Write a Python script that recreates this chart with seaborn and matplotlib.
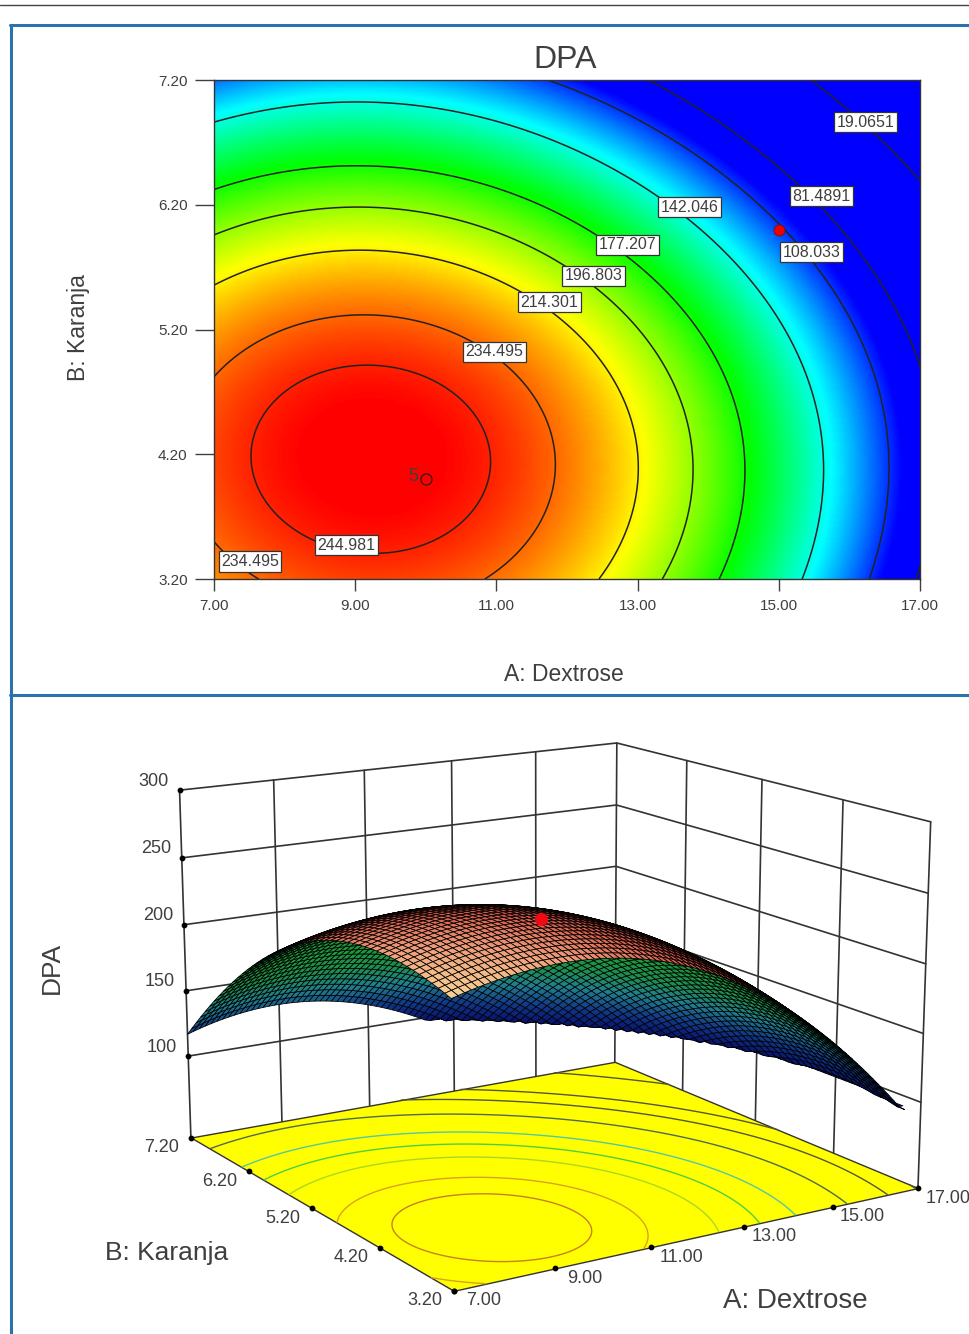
import numpy as np
import matplotlib
matplotlib.use("Agg")
import matplotlib.pyplot as plt
from matplotlib.lines import Line2D
from mpl_toolkits.mplot3d import proj3d
from mpl_toolkits.mplot3d.art3d import Poly3DCollection
import seaborn as sns

# values
dextrose = [7, 8, 9, 10, 11, 12, 13, 14, 15, 16, 17]
karanja = [3.2, 3.7, 4.2, 4.7, 5.2, 5.7, 6.2, 6.7, 7.2]
dpa_32 = [228, 237, 241, 240, 233, 222, 204, 181, 153, 119, 80]
dpa_37 = [237, 246.5, 250.5, 249, 241, 228, 211, 188, 160, 127, 87]
dpa_42 = [239.5, 249, 252, 251, 244, 231, 213.7, 192, 163, 130, 90]
dpa_47 = [236, 245, 249, 248, 241, 227, 210, 188, 160, 127, 85]
dpa_52 = [226, 234, 237, 235, 228, 214.7, 198.5, 173, 144, 110, 72]
dpa_57 = [208, 217, 220, 216, 210, 200.5, 179, 150, 124, 90, 52]
dpa_62 = [185, 194, 196, 192, 184, 170, 153, 135, 98, 73, 31]
dpa_67 = [155, 164, 165, 163, 150, 138, 120, 95, 68, 33, 3]
dpa_72 = [115, 125, 128, 126, 118, 108, 87, 62, 32, -5, -30]
levels = [19.0651, 81.4891, 108.033, 142.046, 177.207, 196.803, 214.301, 234.495, 244.981]
floor_colors = ["#555533", "#555533", "#555533", "#4d6b4a", "#55c8a0", "#4fcf3f", "#a8d820", "#d9a21c", "#c8801c"]
label_text = ["19.0651", "81.4891", "108.033", "142.046", "177.207", "196.803", "214.301", "234.495", "244.981", "234.495"]
label_a = [16.23, 15.6, 15.47, 13.74, 12.86, 12.38, 11.75, 10.97, 8.88, 7.51]
label_b = [6.86, 6.27, 5.82, 6.18, 5.88, 5.63, 5.42, 5.02, 3.47, 3.34]
a_ticks = [7, 9, 11, 13, 15, 17]
b_ticks = [3.2, 4.2, 5.2, 6.2, 7.2]
z_ticks = [100, 150, 200, 250, 300]

W, H = 969, 1334
sns.set_style("white")
plt.rcParams["font.family"] = ["Liberation Sans", "DejaVu Sans"]
fig = plt.figure(figsize=(W / 100, H / 100), dpi=100)
TXT = "#3f3f3f"

# least squares polynomial through the table, only to draw it smoothly
table = np.array([dpa_32, dpa_37, dpa_42, dpa_47, dpa_52, dpa_57, dpa_62, dpa_67, dpa_72], float)
A0, B0 = np.meshgrid(dextrose, karanja)

def basis(a, b):
    p, q = (a - 12) / 5, (b - 5.2) / 2
    return np.stack([p ** i * q ** j for i in range(5) for j in range(5 - i)], axis=-1)

coef = np.linalg.lstsq(basis(A0.ravel(), B0.ravel()), table.ravel(), rcond=None)[0]

def fine(nx, ny):
    a, b = np.meshgrid(np.linspace(7, 17, nx), np.linspace(3.2, 7.2, ny))
    return a, b, basis(a, b) @ coef

rainbow = sns.blend_palette(["#0000ff", "#00ffff", "#00ff00", "#ffff00", "#ff0000"], n_colors=256, as_cmap=True)

# top panel
ax = fig.add_axes([214 / W, 1 - 579 / H, 706 / W, 499 / H])
ax.set_zorder(2)
Af, Bf, Zf = fine(300, 300)
ax.imshow(Zf, extent=(7, 17, 3.2, 7.2), origin="lower", aspect="auto", cmap=rainbow, vmin=100, vmax=250)
ax.contour(Af, Bf, Zf, levels=levels, colors="#222222", linewidths=1.1)
for t, a, b in zip(label_text, label_a, label_b):
    ax.text(a, b, t, ha="center", va="center", fontsize=11.5, color=TXT,
            bbox=dict(boxstyle="square,pad=0.16", fc="white", ec="#333333", lw=0.9))
ax.plot([15], [6], "o", ms=8, color="#ee0000", mec="#661111", mew=0.5)
ax.plot([10], [4], "o", ms=8, mfc="none", mec="#222222", mew=0.9)
ax.text(9.9, 4.02, "5", ha="right", va="center", fontsize=13, color=TXT)
ax.set_xticks(a_ticks, [f"{v:.2f}" for v in a_ticks])
ax.set_yticks(b_ticks, [f"{v:.2f}" for v in b_ticks])
ax.tick_params(axis="x", direction="out", length=8.8, width=1, labelsize=11, colors=TXT, pad=5.5, bottom=True)
ax.tick_params(axis="y", direction="out", length=13.5, width=1, labelsize=11, colors=TXT, pad=5.5, left=True)
for s in ax.spines.values():
    s.set_color("#333333")
    s.set_linewidth(1.0)
fig.text(565 / W, 1 - 60 / H, "DPA", ha="center", va="center", fontsize=23, color=TXT)
fig.text(564 / W, 1 - 674 / H, "A: Dextrose", ha="center", va="center", fontsize=16.5, color=TXT)
fig.text(79 / W, 1 - 328 / H, "B: Karanja", ha="center", va="center", rotation=90, fontsize=16.5, color=TXT)

# bottom panel, camera was fitted to the box corners
ax3 = fig.add_axes([46.7 / W, -150.3 / H, 1, W / H], projection="3d")
ax3.set_zorder(1)
ax3.patch.set_visible(False)
z0 = 36.774
ax3.set_xlim(7, 17)
ax3.set_ylim(3.2, 7.2)
ax3.set_zlim(z0, 300)
ax3.view_init(14.468, -122.535)
ax3.set_proj_type("persp", focal_length=0.54)
ax3.set_box_aspect((0.994, 1, 0.686), zoom=0.843)
ax3.set_axis_off()
ax3.computed_zorder = False
ax3.apply_aspect()

LINE = "#333333"
# walls
for a in a_ticks:
    ax3.plot([a, a], [7.2, 7.2], [z0, 300], color=LINE, lw=1.2, zorder=1)
for b in b_ticks[:-1]:
    ax3.plot([17, 17], [b, b], [z0, 300], color=LINE, lw=1.2, zorder=1)
for z in z_ticks:
    ax3.plot([7, 17, 17], [7.2, 7.2, 3.2], [z, z, z], color=LINE, lw=1.2, zorder=1)

# floor with the contours laid on it
Ac, Bc, Zc = fine(150, 150)
floor = Poly3DCollection([[(7, 3.2, z0), (17, 3.2, z0), (17, 7.2, z0), (7, 7.2, z0)]], facecolors="#ffff00", edgecolors=LINE, linewidths=1.0, zorder=2)
ax3.add_collection3d(floor)
ax3.contour(Ac, Bc, Zc, levels=levels, zdir="z", offset=z0, colors=floor_colors, linewidths=1.0, zorder=3)

def to_pixels(x, y, z):
    x2, y2, _ = proj3d.proj_transform(x, y, z, ax3.get_proj())
    return ax3.transData.transform(np.c_[x2, y2])

# mesh of the surface: cut off low down, top side salmon, underside by height
CUT = 97
under_cmap = sns.blend_palette(["#07106e", "#123a88", "#1f7f8f", "#1c8f50", "#1c9a3c"], n_colors=256, as_cmap=True)
top_cmap = sns.blend_palette(["#f6cf92", "#ef9c7a", "#d9604f", "#b23c34"], n_colors=256, as_cmap=True)
As, Bs, Zs = fine(80, 50)
Pix = to_pixels(As.ravel(), Bs.ravel(), Zs.ravel()).reshape(As.shape + (2,))
verts, faces = [], []
for i in range(Zs.shape[0] - 1):
    for j in range(Zs.shape[1] - 1):
        idx = [(i, j), (i, j + 1), (i + 1, j + 1), (i + 1, j)]
        z4 = [Zs[k] for k in idx]
        if max(z4) < CUT:
            continue
        verts.append([(As[k], Bs[k], max(Zs[k], CUT)) for k in idx])
        p = np.array([Pix[k] for k in idx])
        area = np.cross(p[2] - p[0], p[3] - p[1])
        if area > 0:
            u, v = (As[i, j] - 7) / 10, (Bs[i, j] - 3.2) / 4
            faces.append(top_cmap(min((u + v) / 0.65, 1)))
        else:
            faces.append(under_cmap(np.clip((np.mean(z4) - 97) / 85, 0, 1)))
mesh = Poly3DCollection(verts, facecolors=faces, edgecolors="k", linewidths=0.55, zorder=4)
ax3.add_collection3d(mesh)
ax3.scatter([10], [4], [250], s=70, color="#f00a14", depthshade=False, zorder=6)

# tick dots and labels
def tick_label(x, y, z, text, dx, dy):
    px = to_pixels(x, y, z)[0]
    fig.text((px[0] + dx) / W, (px[1] + dy) / H, text, ha="center", va="center", fontsize=13, color=TXT)

ax3.scatter([7] * 5, [7.2] * 5, z_ticks, s=10, color="k", depthshade=False, zorder=5)
ax3.scatter([7] * 5, b_ticks, [z0] * 5, s=10, color="k", depthshade=False, zorder=5)
ax3.scatter(a_ticks, [3.2] * 6, [z0] * 6, s=10, color="k", depthshade=False, zorder=5)
for z in z_ticks:
    tick_label(7, 7.2, z, str(z), -26, 9)
for b in b_ticks:
    tick_label(7, b, z0, f"{b:.2f}", -29, -10)
for a in a_ticks:
    tick_label(a, 3.2, z0, f"{a:.2f}", 30, -10)

fig.text(52 / W, 1 - 968 / H, "DPA", ha="center", va="center", rotation=90, fontsize=19, color=TXT)
fig.text(167 / W, 1 - 1253 / H, "B: Karanja", ha="center", va="center", fontsize=19, color=TXT)
fig.text(795 / W, 1 - 1301 / H, "A: Dextrose", ha="center", va="center", fontsize=20, color=TXT)

# frame around the panels
BLUE = "#2a72ae"
def rule(x0, y0, x1, y1, color=BLUE, lw=2.2):
    fig.add_artist(Line2D([x0 / W, x1 / W], [1 - y0 / H, 1 - y1 / H], color=color, lw=lw, zorder=5))

rule(0, 4.5, W, 4.5, color="#444444", lw=1.0)
rule(11, 25, 11, H)
rule(10, 25, W, 25)
rule(10, 695, W, 695)

fig.savefig("out.png", dpi=100)
